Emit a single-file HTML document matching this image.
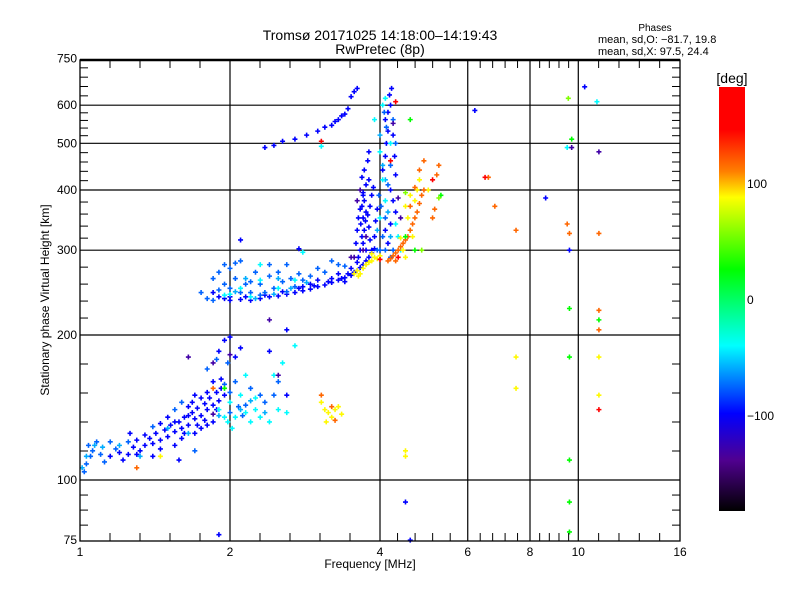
<!DOCTYPE html>
<html><head><meta charset="utf-8">
<style>
body{margin:0;background:#fff;}
svg{display:block;font-family:"Liberation Sans",sans-serif;}
</style></head>
<body>
<svg id="chart" width="800" height="600" viewBox="0 0 800 600">
<defs>
<linearGradient id="cmap" x1="0" y1="0" x2="0" y2="1">
<stop offset="0" stop-color="#ff0000"/><stop offset="0.1" stop-color="#ff0000"/>
<stop offset="0.2" stop-color="#ff8000"/><stop offset="0.26" stop-color="#ffff00"/>
<stop offset="0.43" stop-color="#00ff00"/><stop offset="0.61" stop-color="#00ffff"/>
<stop offset="0.77" stop-color="#0000ff"/><stop offset="0.88" stop-color="#500090"/>
<stop offset="1" stop-color="#000000"/>
</linearGradient>
</defs>
<text x="380" y="40" text-anchor="middle" font-size="14">Tromsø 20171025 14:18:00–14:19:43</text>
<text x="380" y="54" text-anchor="middle" font-size="14">RwPretec (8p)</text>
<text x="655" y="31" text-anchor="middle" font-size="10">Phases</text>
<text x="598" y="43" font-size="11">mean, sd,O: −81.7, 19.8</text>
<text x="598" y="55" font-size="11">mean, sd,X:  97.5, 24.4</text>
<g id="grid"></g>
<g id="marks"></g>
<g id="axes"></g>
<text x="370" y="568" text-anchor="middle" font-size="12">Frequency [MHz]</text>
<text transform="translate(49,300) rotate(-90)" text-anchor="middle" font-size="12">Stationary phase Virtual Height [km]</text>
<rect x="719" y="87" width="26" height="424" fill="url(#cmap)"/>
<text x="732" y="83" text-anchor="middle" font-size="14">[deg]</text>
<g id="cbticks"></g>
</svg>
<script>
const xTickLabels = [1, 2, 4, 6, 8, 10, 16];
const yTickLabels = [75, 100, 200, 300, 400, 500, 600, 750];
const yGridValues = [100, 200, 300, 400, 500, 600];
const xGridValues = [2, 4, 6, 8, 10];
const colorbarTicks = [100, 0, -100];
const groupPhases = {deepBlue: -98, midBlue: -75, lightBlue: -58, cyan: -40, purple: -130, yellow: 90, orange: 118, red: 160, green: 27, yellowGreen: 58};
const deepBlue = [[1.15,112],[1.2,114],[1.25,113],[1.3,121],[1.35,118],[1.4,119],[1.45,121],[1.5,123],[1.55,126],[1.6,128],[1.65,130],[1.7,134],[1.75,136],[1.8,140],[1.85,143],[1.9,146],[1.95,150],[1.62,135],[1.68,138],[1.72,141],[1.78,144],[1.82,148],[1.88,152],[1.92,155],[1.5,135],[1.45,131],[1.55,118],[1.6,122],[1.7,125],[1.75,148],[1.85,160],[1.9,185],[1.95,195],[1.65,142],[1.58,132],[1.52,130],[1.48,127],[1.42,125],[1.38,122],[1.22,110],[1.28,117],[1.32,115],[2.1,188],[2.05,180],[2.6,150],[2.4,185],[1.85,132],[1.8,130],[1.7,150],[1.58,110],
[1.85,245],[1.9,240],[1.95,238],[2.0,240],[2.1,237],[2.2,236],[2.3,238],[2.4,240],[2.5,241],[2.6,243],[2.7,245],[2.8,247],[2.9,249],[3.0,252],[3.1,254],[3.2,257],[3.3,260],[3.4,263],[3.5,266],[3.55,270],[3.6,272],[3.65,276],[3.7,280],[3.75,285],[3.8,290],[3.85,296],[3.9,302],[3.2,262],[3.3,268],[3.4,258],[3.0,260],[2.9,255],[2.8,252],[3.5,275],[3.6,283],
[3.65,300],[3.7,310],[3.68,320],[3.72,330],[3.66,340],[3.7,350],[3.75,360],[3.68,370],[3.72,380],[3.7,395],[3.75,410],[3.68,425],[3.72,440],[3.78,460],[3.8,480],[3.85,300],[3.82,315],[3.8,335],[3.78,355],[3.82,370],[3.85,390],[3.88,405],[3.9,320],[3.92,345],[3.95,365],[3.6,330],[3.62,350],[3.65,365],[3.58,310],[4.05,440],[4.1,470],[4.12,500],[4.15,530],[4.1,560],[4.15,580],[4.2,600],[4.18,630],[4.22,650],[4.25,520],[4.28,470],[4.3,430],[4.2,400],[4.25,380],[4.3,360],[4.2,340],[4.1,330],[4.15,310],
[3.55,640],[3.6,650],[3.5,625],[3.45,590],[3.35,570],[3.25,555],[3.2,545],[3.1,540],[3.0,530],[2.85,520],[2.7,510],[2.55,505],[2.45,495],[2.35,490],[3.4,575],[3.3,560],
[6.2,585],[10.3,655],[2.1,315],[2.75,302],[2.6,205],[2.0,198],[4.5,90],[4.6,75],[1.9,77],[9.6,300],[8.6,385],[1.4,112],
[1.75,128],[1.68,145],[1.8,152],[1.62,125],[1.72,130],[1.88,140],[1.78,133],[1.55,132],[1.65,136],[1.92,162],[1.35,124],[1.3,113],[1.26,125],[1.45,116],
[2.0,236],[2.15,240],[2.35,242],[2.55,246],[2.75,250],[2.95,253],[3.15,258],[3.35,262],[3.45,268],[3.62,290],[3.75,300],[3.7,390],[3.8,420],[3.74,345]];
const midBlue = [[1.75,245],[1.8,238],[1.85,236],[1.9,248],[1.95,255],[2.0,250],[2.05,262],[2.1,245],[2.15,255],[2.2,245],[2.25,270],[2.3,255],[2.35,245],[2.4,265],[2.45,250],[2.5,270],[2.55,258],[2.6,280],[2.65,262],[2.7,252],[2.75,268],[2.8,260],[2.9,265],[3.0,275],[3.1,270],[3.2,285],[3.3,280],[3.4,278],[1.9,270],[1.95,280],[2.0,275],[1.85,262],[2.1,285],[2.05,282],[2.2,258],[2.4,280],[2.6,246],[2.3,242],
[1.02,104],[1.03,108],[1.05,112],[1.06,115],[1.04,118],[1.08,120],[1.1,113],[1.12,109],[1.18,116],[1.25,120],[1.15,120],[1.4,129],[1.55,140],[1.6,145],[1.7,115],[1.95,158],[2.0,152],[2.05,160],[2.15,143],[2.2,155],[2.3,150],[2.35,145],[2.5,160],[2.45,150],[1.98,175],[1.88,178],[1.8,170],[2.0,138],[2.08,142],[2.12,136],
[4.0,300],[4.05,320],[3.95,300],[4.1,350],[4.15,410],[4.2,450],[4.3,500],[4.25,560],[4.08,580],[4.12,540],[3.98,390],[4.02,370],[4.1,300],[4.2,290],[4.25,300]];
const lightBlue = [[1.01,106],[1.03,112],[1.07,118],[1.11,117],[1.2,118],[1.32,112],[1.5,128],[1.65,125],[1.9,136],[2.1,140],[2.2,146],[2.35,138],[2.05,246],[2.25,238],[2.45,243],[2.65,250],[2.85,257],[2.15,262],[2.5,262],[4.0,520],[4.05,450],[4.15,360],[4.1,420],[4.2,320],[3.95,330]];
const cyan = [[1.9,140],[1.95,135],[2.0,145],[2.05,135],[2.1,150],[2.15,138],[2.2,132],[2.25,140],[2.3,135],[2.4,132],[2.5,140],[2.6,138],[2.45,165],[2.55,175],[2.7,190],[2.15,165],[2.25,148],[1.98,132],[2.02,128],
[2.0,243],[2.1,250],[2.3,260],[2.5,250],[2.7,260],[1.95,242],[2.2,240],[3.9,560],[4.0,480],[4.05,420],[4.1,380],[4.0,350],[4.2,500],[4.05,600],[4.1,620],[4.3,340],[4.35,320],[4.4,300],[2.3,280],[2.8,297],[3.05,493],[10.9,610],[9.5,490]];
const purple = [[3.65,400],[3.6,380],[3.7,300],[3.75,320],[4.35,385],[4.4,350],[3.55,290],[4.25,550],[1.65,180],[1.85,175],[2.4,215],[1.85,137],[2.0,182],[2.5,165],[9.7,490],[11.0,480],[3.5,290]];
const yellow = [[3.6,272],[3.65,268],[3.7,275],[3.75,280],[3.8,283],[3.85,285],[3.9,290],[3.55,268],[3.62,265],[3.85,295],[3.95,288],[4.0,292],[3.1,140],[3.15,138],[3.2,135],[3.25,140],[3.3,142],[3.35,137],[3.05,145],[3.12,132],[4.5,115],[4.5,112],[4.6,390],[4.5,370],[4.55,350],[4.6,330],[4.65,320],[4.7,380],[4.75,400],[4.8,420],[4.45,300],[5.0,400],[7.5,180],[7.5,155],[11,180],[1.45,112],[11,150],[4.4,318],[4.5,290]];
const orange = [[4.15,285],[4.2,288],[4.25,292],[4.3,296],[4.35,300],[4.4,305],[4.45,310],[4.5,315],[4.55,320],[4.6,330],[4.65,340],[4.7,350],[4.75,360],[4.8,375],[4.85,390],[4.9,400],[4.6,370],[4.7,405],[4.8,440],[4.9,460],[5.1,350],[5.15,365],[5.2,430],[5.25,450],[4.3,285],[6.8,370],[6.6,425],[3.05,150],[3.2,142],[3.25,133],[7.5,330],[9.5,340],[9.6,325],[11.0,225],[11,205],[11,325],[1.3,106],[1.85,155]];
const red = [[3.05,505],[4.0,287],[5.1,420],[6.5,425],[11,140],[4.35,290],[4.2,460],[4.3,610]];
const green = [[9.6,78],[9.6,90],[9.6,110],[9.6,180],[9.6,227],[9.7,510],[11,215],[4.7,300],[4.5,320],[5.3,390],[1.95,155],[4.6,560]];
const yellowGreen = [[9.55,620],[4.5,395],[4.85,300],[5.25,385]];

const NS = 'http://www.w3.org/2000/svg';
const L = 80, R = 680, T = 60, B = 541;
function xScale(f){ return L + 150 * Math.log2(f); }
function yScale(h){ return 480 - 145 * Math.log2(h / 100); }
function phaseColor(p){
  const stops = [[184,[255,0,0]],[147,[255,0,0]],[111,[255,128,0]],[89,[255,255,0]],[27,[0,255,0]],[-39,[0,255,255]],[-98,[0,0,255]],[-138,[80,0,144]],[-182,[0,0,0]]];
  for(let i=0;i<stops.length-1;i++){
    const a=stops[i], b=stops[i+1];
    if(p<=a[0] && p>=b[0]){
      const t=(a[0]-p)/(a[0]-b[0]);
      const c=a[1].map((v,k)=>Math.round(v+(b[1][k]-v)*t));
      return 'rgb('+c.join(',')+')';
    }
  }
  return p>0?'rgb(255,0,0)':'rgb(0,0,0)';
}
function mk(tag, attrs, parent){
  const el=document.createElementNS(NS,tag);
  for(const k in attrs) el.setAttribute(k,attrs[k]);
  parent.appendChild(el); return el;
}
const grid=document.getElementById('grid');
const axes=document.getElementById('axes');
const marks=document.getElementById('marks');
xGridValues.forEach(v=>{
  const x=xScale(v);
  const ln=mk('line',{x1:x,x2:x,y1:T,y2:B,stroke:'#000','stroke-width':1.2},grid);
  
  
});
yGridValues.forEach(v=>{
  const y=yScale(v);
  const ln=mk('line',{x1:L,x2:R,y1:y,y2:y,stroke:'#000','stroke-width':1.2},grid);
  
  
});
for(let i=0;i<xTickLabels.length-1;i++){
  const a=xScale(xTickLabels[i]), b=xScale(xTickLabels[i+1]);
  for(let k=1;k<5;k++){
    const x=a+(b-a)*k/5;
    mk('line',{x1:x,x2:x,y1:B,y2:B-8,stroke:'#000'},axes);
    mk('line',{x1:x,x2:x,y1:T,y2:T+8,stroke:'#000'},axes);
  }
}
for(let i=0;i<yTickLabels.length-1;i++){
  const a=yScale(yTickLabels[i]), b=yScale(yTickLabels[i+1]);
  const n = yTickLabels[i]===75 ? 4 : 5;
  for(let k=1;k<n;k++){
    const y=a+(b-a)*k/n;
    mk('line',{x1:L,x2:L+8,y1:y,y2:y,stroke:'#000'},axes);
    mk('line',{x1:R,x2:R-8,y1:y,y2:y,stroke:'#000'},axes);
  }
}
const frame=mk('rect',{x:L,y:T,width:R-L,height:B-T,fill:'none',stroke:'#000','stroke-width':1.3},axes);


mk('line',{x1:L,x2:R,y1:T,y2:T,stroke:'#000','stroke-width':2.5},axes);
xTickLabels.forEach(v=>{
  const t=mk('text',{x:xScale(v),y:B+15,'text-anchor':'middle','font-size':12},axes);
  t.textContent=v;
  
  
});
yTickLabels.forEach(v=>{
  const t=mk('text',{x:L-3,y:yScale(v)+4,'text-anchor':'end','font-size':12},axes);
  t.textContent=v;
  
  
});
const groups={deepBlue,midBlue,lightBlue,cyan,purple,yellow,orange,red,green,yellowGreen};
for(const g in groups){
  const col=phaseColor(groupPhases[g]);
  groups[g].forEach(pt=>{
    const x=xScale(pt[0]), y=yScale(pt[1]);
    const p=mk('path',{d:'M'+(x-2.5)+' '+y+'h5M'+x+' '+(y-2.5)+'v5',stroke:col,'stroke-width':1.6,fill:'none'},marks);
    
    
  });
}
const cb=document.getElementById('cbticks');
colorbarTicks.forEach(v=>{
  const y=300-1.16*v;
  const t=mk('text',{x:747,y:y+4,'font-size':12},cb);
  t.textContent=v===-100?'−100':String(v);
  
  
});
</script>
</body></html>
